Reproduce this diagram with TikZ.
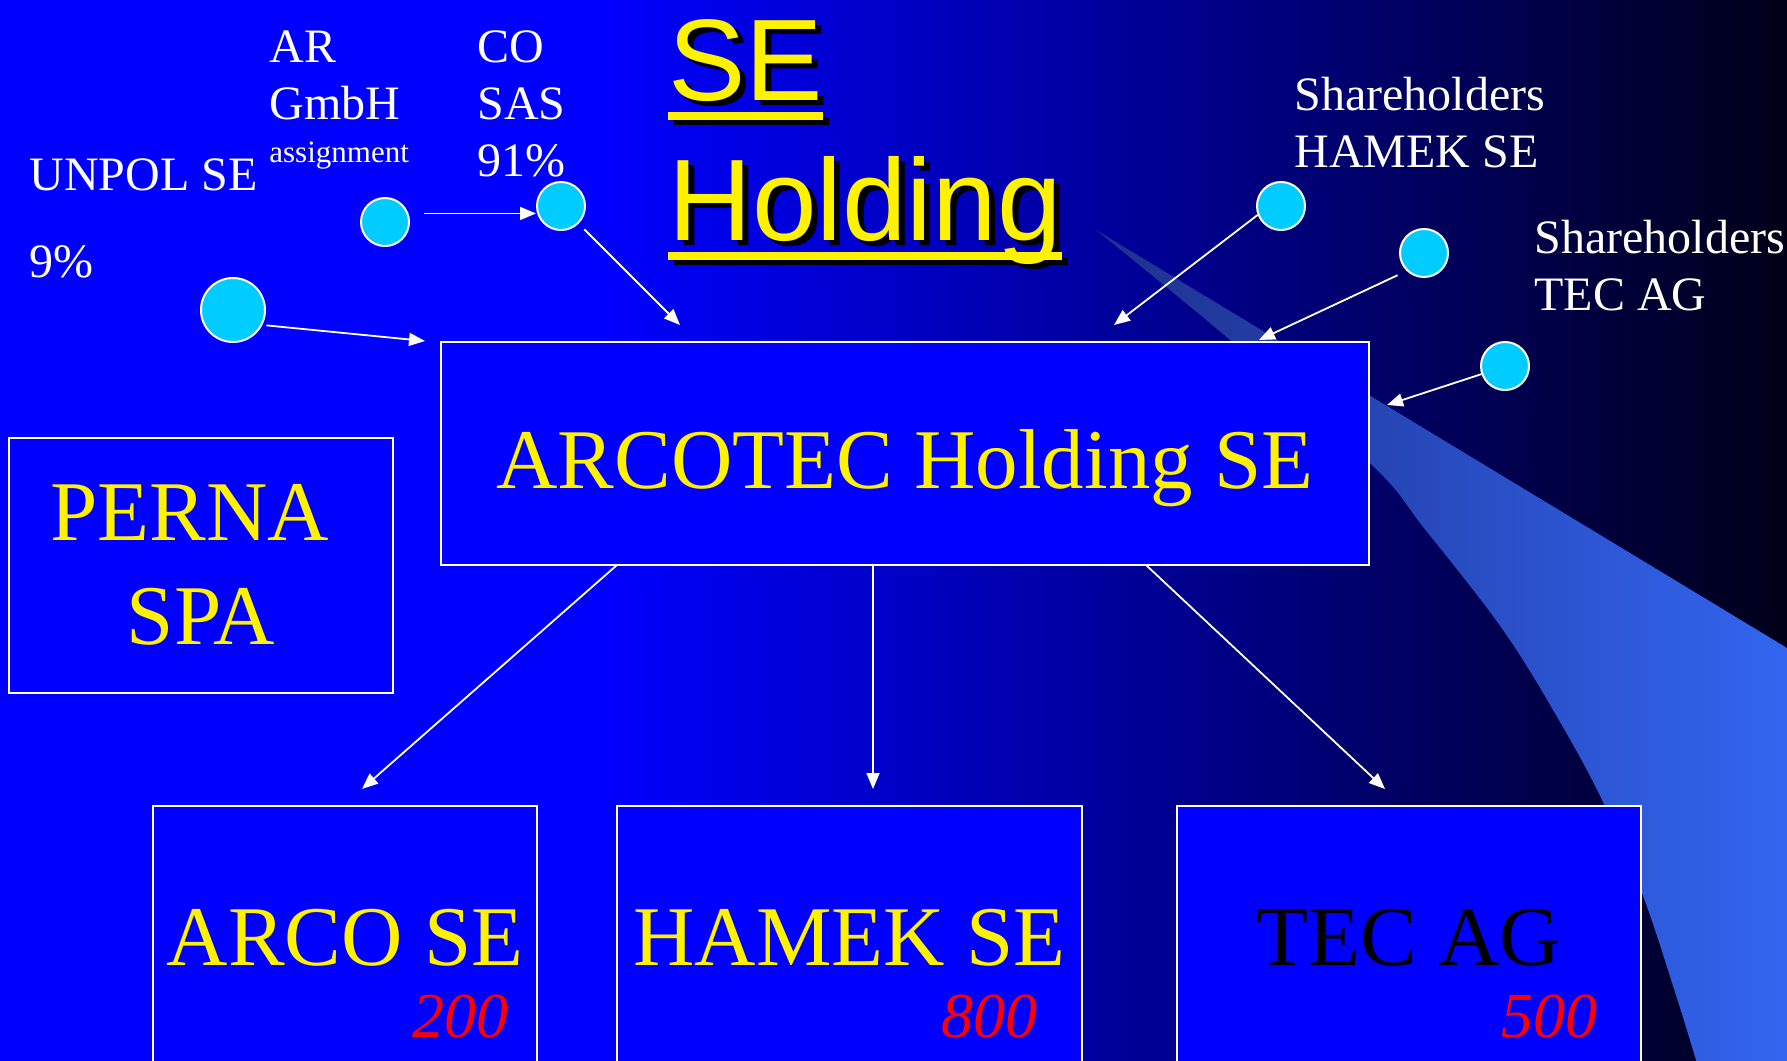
\documentclass[tikz,border=0pt]{standalone}
\usepackage{fontspec}
\setmainfont{Liberation Serif}
\newfontfamily\headfont{Liberation Sans}
\usepackage{tikz}
\usetikzlibrary{arrows.meta}
\usetikzlibrary{calc}

\definecolor{slideblue}{RGB}{0,0,255}
\definecolor{slidenight}{RGB}{0,0,22}
\definecolor{boxblue}{RGB}{0,0,255}
\definecolor{dotcyan}{RGB}{0,204,255}
\definecolor{tipblue}{RGB}{30,48,140}
\definecolor{swooshblue}{RGB}{51,102,242}
\definecolor{slidered}{RGB}{255,0,0}

% underlined title word
\newcommand{\ulined}[1]{\setbox0=\hbox{#1}\rlap{\rule[-10pt]{\wd0}{4pt}}\box0}

\begin{document}
\begin{tikzpicture}[
    x=0.5pt, y=-0.5pt,
    link/.style={white, line width=0.9pt, -{Triangle[length=8pt, width=6.5pt]}},
    firm/.style={draw=white, line width=1pt, fill=boxblue, text=yellow, inner sep=0pt, font=\fontsize{42.5}{52}\selectfont},
    dot/.style={circle, draw=white, line width=1pt, fill=dotcyan, inner sep=0pt, minimum size=24pt},
    note/.style={text=white, inner sep=0pt, align=left, font=\fontsize{24}{28.5}\selectfont},
    share/.style={text=slidered, inner sep=0pt, font=\itshape\fontsize{32}{38}\selectfont},
    headline/.style={inner sep=0pt, font=\headfont\fontsize{58}{70}\selectfont}
    ]
   \useasboundingbox (0,0) rectangle (1787,1060);
   % arrow ends
   \coordinate (inCO) at (680,325);
   \coordinate (inUN) at (425,341);
   \coordinate (inHS) at (1114,325);
   \coordinate (inTA) at (1259,340);
   \coordinate (inTB) at (1387,405);
   \coordinate (outA) at (617,565);
   \coordinate (outH) at (873,565);
   \coordinate (outT) at (1146,565);
   \coordinate (inA) at (362,789);
   \coordinate (inH) at (873,789);
   \coordinate (inT) at (1385,789);
   % background
   \fill[slideblue] (-10,-10) rectangle (601,1075);
   \shade[left color=slideblue, right color=slidenight] (600,-10) rectangle (1797,1075);
   % swoosh
   \shade[left color=tipblue, right color=swooshblue] (1096,230) -- (1797,654) -- (1797,1075)
      -- plot [smooth, tension=0.6] coordinates {(1700,1075) (1696,1060) (1674,989) (1643,896) (1604,804) (1560,722) (1503,630) (1424,528) (1372,465) (1230,340) (1096,230)} -- cycle;
   % title
   \node[headline, text=black, anchor=base west] (seshadow) at (674,105) {\ulined{SE}};
   \node[headline, text=yellow, anchor=base west] (se) at (668,100) {\ulined{SE}};
   \node[headline, text=black, anchor=base west] (holdshadow) at (674,245) {\ulined{Holding}};
   \node[headline, text=yellow, anchor=base west] (holdtitle) at (668,240) {\ulined{Holding}};
   % companies
   \node[firm, minimum width=464pt, minimum height=111.7pt, text height=34.5pt, text depth=0pt] (hold) at (905,453.6) {ARCOTEC Holding SE};
   \node[firm, minimum width=192pt, minimum height=127.7pt, align=center] (perna) at (201,565.3) {PERNA\hspace*{11pt}\\SPA};
   \node[firm, minimum width=192pt, minimum height=142pt, text height=17pt, text depth=0pt] (arco) at (345,948) {ARCO SE};
   \node[firm, minimum width=232.5pt, minimum height=142pt, text height=17pt, text depth=0pt] (hamek) at (849.5,948) {HAMEK SE};
   \node[firm, minimum width=232pt, minimum height=142pt, text height=17pt, text depth=0pt, text=black] (tec) at (1409,948) {TEC AG};
   \node[share, anchor=base east] (capA) at (509,1037) {200};
   \node[share, anchor=base east] (capH) at (1038,1037) {800};
   \node[share, anchor=base east] (capT) at (1598,1037) {500};
   % shareholders
   \node[dot, minimum size=32pt] (unpol) at (233,310) {};
   \node[dot] (ar) at (385,222) {};
   \node[dot] (co) at (561,206) {};
   \node[dot] (hsh) at (1281,206) {};
   \node[dot] (tsa) at (1424,253) {};
   \node[dot] (tsb) at (1505,366) {};
   \node[note, anchor=base west] (unpollbl) at (29,190) {UNPOL SE};
   \node[note, anchor=base west] (unpolpct) at (29,277) {9\%};
   \node[note, anchor=north west] (arlbl) at (269,30) {AR\\GmbH};
   \node[note, anchor=base west, font=\fontsize{15.5}{18}\selectfont] (assign) at (269,162) {assignment};
   \node[note, anchor=north west] (colbl) at (477,30) {CO\\SAS\\91\%};
   \node[note, anchor=north west] (hshlbl) at (1294,77) {Shareholders\\HAMEK SE};
   \node[note, anchor=north west] (tshlbl) at (1534,220) {Shareholders\\TEC AG};
   % arrows
   \draw[link, shorten <=8pt] (ar.20) -- (ar.20 -| co.west);
   \draw[link, shorten <=4pt] (co.south east) -- (inCO);
   \draw[link, shorten <=2pt] (unpol.-27) -- (inUN);
   \draw[link] (hsh.201) -- (inHS);
   \draw[link, shorten <=5pt] (tsa.226) -- (inTA);
   \draw[link] (tsb.199) -- (inTB);
   \draw[link] (outA) -- (inA);
   \draw[link] (outH) -- (inH);
   \draw[link] (outT) -- (inT);
\end{tikzpicture}
\end{document}
